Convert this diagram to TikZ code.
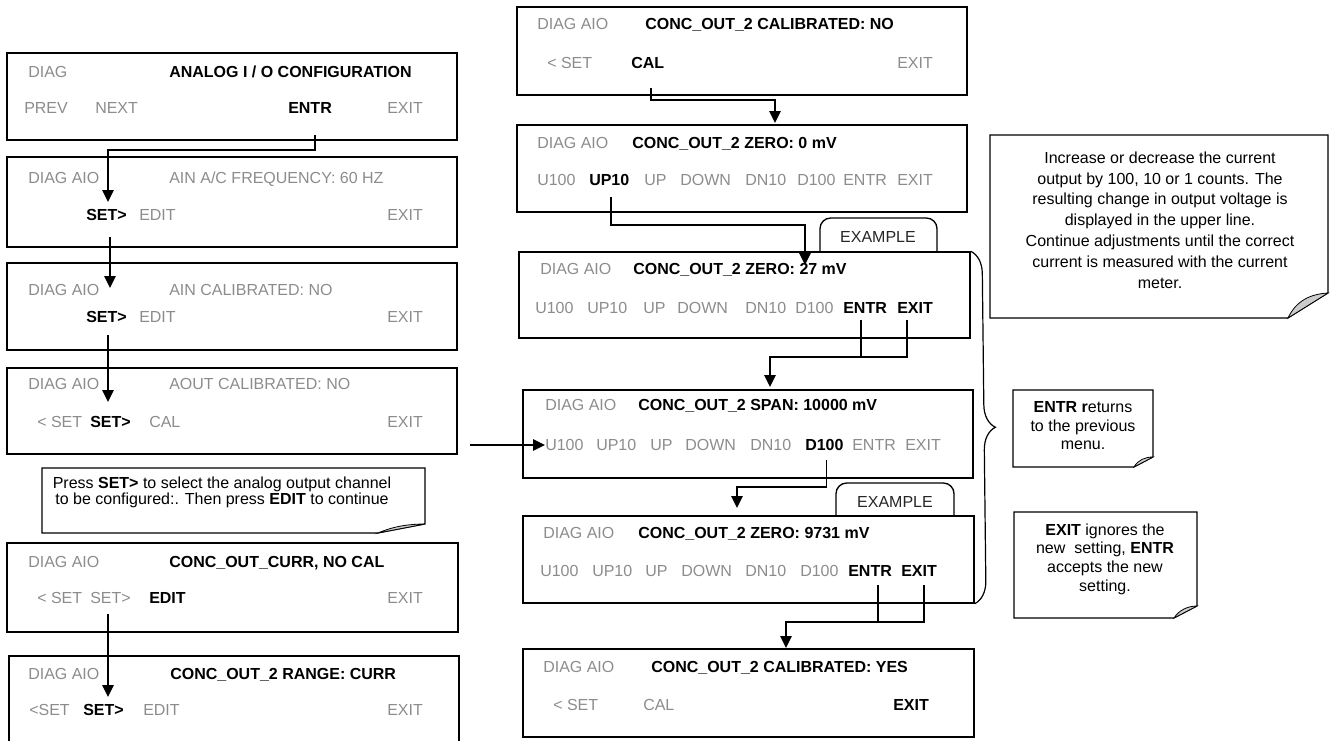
\documentclass[tikz,border=0pt]{standalone}
\usepackage{fontspec}
\setmainfont{Liberation Sans}
\usetikzlibrary{arrows.meta,positioning,fit,calc,decorations.pathreplacing}
\definecolor{lcdgray}{gray}{0.55}

\begin{document}
\begin{tikzpicture}[
    x=0.75pt, y=-0.75pt,
    screen/.style={draw, line width=1.1pt, inner sep=0pt},
    key/.style={anchor=west, inner xsep=0pt, inner ysep=3pt, text height=8.6pt, text depth=0pt,
                text=lcdgray, font=\fontsize{12}{14}\selectfont},
    hot/.style={key, text=black, font=\fontsize{12}{14}\selectfont\bfseries},
    flow/.style={line width=1.3pt, -{Triangle[length=9pt, width=8.5pt]}},
    wire/.style={line width=1.3pt},
    memo/.style={draw, line width=0.8pt, fill=white},
    curl/.style={draw, line width=0.6pt, fill=gray!40},
    memotext/.style={align=center, inner sep=0pt, font=\fontsize{12}{15.6}\selectfont},
    tab/.style={draw, line width=1pt, rounded corners=8pt},
    curly/.style={decorate, decoration={brace, amplitude=17pt}, line width=0.9pt}
]
    \useasboundingbox (0,0) rectangle (1331,740);

    % Left column: analog I/O configuration
    \node[screen, fit={(7,53) (457,140)}] (aio1) {};
    \node[key] (aio1diag) at (28,72) {DIAG};
    \node[hot] (aio1title) at (169,72) {ANALOG I / O CONFIGURATION};
    \node[key] (aio1prev) at (24,108) {PREV};
    \node[key] (aio1next) at (95,108) {NEXT};
    \node[hot] (aio1entr) at (288,108) {ENTR};
    \node[key] (aio1exit) at (387,108) {EXIT};

    \node[screen, fit={(7,157) (457,247)}] (aio2) {};
    \node[key] (aio2diag) at (28,178) {DIAG AIO};
    \node[key] (aio2title) at (169,178) {AIN A/C FREQUENCY: 60 HZ};
    \node[hot] (aio2set) at (86,215) {SET>};
    \node[key] (aio2edit) at (139,215) {EDIT};
    \node[key] (aio2exit) at (387,215) {EXIT};

    \node[screen, fit={(7,263) (457,350)}] (aio3) {};
    \node[key] (aio3diag) at (28,290) {DIAG AIO};
    \node[key] (aio3title) at (169,290) {AIN CALIBRATED: NO};
    \node[hot] (aio3set) at (86,317) {SET>};
    \node[key] (aio3edit) at (139,317) {EDIT};
    \node[key] (aio3exit) at (387,317) {EXIT};

    \node[screen, fit={(7,368) (457,454)}] (aio4) {};
    \node[key] (aio4diag) at (28,384) {DIAG AIO};
    \node[key] (aio4title) at (169,384) {AOUT CALIBRATED: NO};
    \node[key] (aio4prev) at (37,422) {< SET};
    \node[hot] (aio4set) at (90,422) {SET>};
    \node[key] (aio4cal) at (149,422) {CAL};
    \node[key] (aio4exit) at (387,422) {EXIT};

    % Hint below the channel menu
    \draw[memo] (42,468) -- (425,468) -- (425,524) -- (378,533) -- (42,533) -- cycle;
    \draw[curl] (378,533) .. controls (394,526) and (410,524) .. (425,524) -- cycle;
    \node[memotext, font=\fontsize{12}{12}\selectfont] (hintset) at (222,492)
        {Press \textbf{SET>} to select the analog output channel\\
         to be configured:. Then press \textbf{EDIT} to continue};

    \node[screen, fit={(7,543) (458,632)}] (aio5) {};
    \node[key] (aio5diag) at (28,562) {DIAG AIO};
    \node[hot] (aio5title) at (169,562) {CONC\_OUT\_CURR, NO CAL};
    \node[key] (aio5prev) at (37,598) {< SET};
    \node[key] (aio5set) at (90,598) {SET>};
    \node[hot] (aio5edit) at (149,598) {EDIT};
    \node[key] (aio5exit) at (387,598) {EXIT};

    \node[screen, fit={(9,656) (459,748)}] (aio6) {};
    \node[key] (aio6diag) at (28,674) {DIAG AIO};
    \node[hot] (aio6title) at (170,674) {CONC\_OUT\_2 RANGE: CURR};
    \node[key] (aio6prev) at (29,710) {<SET};
    \node[hot] (aio6set) at (83,710) {SET>};
    \node[key] (aio6edit) at (143,710) {EDIT};
    \node[key] (aio6exit) at (387,710) {EXIT};

    % Left column arrows
    \coordinate (tipa1) at (108,202);
    \draw[flow] ($(aio1entr.south)+(5,17)$) -- ++(0,15) -| (tipa1);
    \coordinate (tipa2) at (110,288);
    \draw[flow] ($(tipa2 |- aio2set.south)+(0,12)$) -- (tipa2);
    \coordinate (tipa3) at (108,402);
    \draw[flow] ($(tipa3 |- aio3set.south)+(0,8)$) -- (tipa3);
    \coordinate (tipa4) at (108,697);
    \draw[flow] ($(tipa4 |- aio5set.south)+(0,6)$) -- (tipa4);

    % Right column: calibration screens
    \node[screen, fit={(517,7) (967,95)}] (cal1) {};
    \node[key] (cal1diag) at (537,24) {DIAG AIO};
    \node[hot] (cal1title) at (645,24) {CONC\_OUT\_2 CALIBRATED: NO};
    \node[key] (cal1prev) at (547,63) {< SET};
    \node[hot] (cal1cal) at (631,63) {CAL};
    \node[key] (cal1exit) at (897,63) {EXIT};

    \node[screen, fit={(517,125) (967,212)}] (cal2) {};
    \node[key] (cal2diag) at (537,143) {DIAG AIO};
    \node[hot] (cal2title) at (632,143) {CONC\_OUT\_2 ZERO: 0 mV};
    \foreach \w/\xx/\st/\nm in {U100/537/key/cal2u100, UP10/589/hot/cal2up10, UP/644/key/cal2up,
        DOWN/680/key/cal2down, DN10/745/key/cal2dn10, D100/797/key/cal2d100,
        ENTR/843/key/cal2entr, EXIT/897/key/cal2exit}
        \node[\st] (\nm) at (\xx,180) {\w};

    % Example tab above the first adjustment
    \draw[tab] (820,252) |- (878,218) -| (937,252);
    \node[key, anchor=center, text=black!85] (tab1) at (878,237) {EXAMPLE};

    \node[screen, fit={(519,252) (970,338)}] (cal3) {};
    \node[key] (cal3diag) at (540,269) {DIAG AIO};
    \node[hot] (cal3title) at (633,269) {CONC\_OUT\_2 ZERO: 27 mV};
    \foreach \w/\xx/\st/\nm in {U100/535/key/cal3u100, UP10/587/key/cal3up10, UP/643/key/cal3up,
        DOWN/677/key/cal3down, DN10/745/key/cal3dn10, D100/795/key/cal3d100,
        ENTR/843/hot/cal3entr, EXIT/897/hot/cal3exit}
        \node[\st] (\nm) at (\xx,308) {\w};

    \node[screen, fit={(523,390) (973,478)}] (cal4) {};
    \node[key] (cal4diag) at (545,405) {DIAG AIO};
    \node[hot] (cal4title) at (638,405) {CONC\_OUT\_2 SPAN: 10000 mV};
    \foreach \w/\xx/\st/\nm in {U100/545/key/cal4u100, UP10/596/key/cal4up10, UP/650/key/cal4up,
        DOWN/685/key/cal4down, DN10/750/key/cal4dn10, D100/805/hot/cal4d100,
        ENTR/852/key/cal4entr, EXIT/905/key/cal4exit}
        \node[\st] (\nm) at (\xx,445) {\w};

    % Example tab above the second adjustment
    \draw[tab] (836,516) |- (895,483) -| (954,516);
    \node[key, anchor=center, text=black!85] (tab2) at (895,502) {EXAMPLE};

    \node[screen, fit={(523,516) (974,603)}] (cal5) {};
    \node[key] (cal5diag) at (543,533) {DIAG AIO};
    \node[hot] (cal5title) at (638,533) {CONC\_OUT\_2 ZERO: 9731 mV};
    \foreach \w/\xx/\st/\nm in {U100/540/key/cal5u100, UP10/592/key/cal5up10, UP/645/key/cal5up,
        DOWN/681/key/cal5down, DN10/745/key/cal5dn10, D100/800/key/cal5d100,
        ENTR/848/hot/cal5entr, EXIT/901/hot/cal5exit}
        \node[\st] (\nm) at (\xx,571) {\w};

    \node[screen, fit={(523,649) (974,737)}] (cal6) {};
    \node[key] (cal6diag) at (543,667) {DIAG AIO};
    \node[hot] (cal6title) at (651,667) {CONC\_OUT\_2 CALIBRATED: YES};
    \node[key] (cal6prev) at (553,705) {< SET};
    \node[key] (cal6cal) at (643,705) {CAL};
    \node[hot] (cal6exit) at (893,705) {EXIT};

    % Right column arrows
    \coordinate (tipr1) at (775,123);
    \draw[flow] ($(cal1cal.south)+(3,15)$) -- ++(0,12) -| (tipr1);
    \coordinate (tipr2) at (805,265);
    \draw[flow] ($(cal2up10.south)+(2,7)$) -- ++(0,28) -| (tipr2);
    \coordinate (tipr3) at (770,387);
    \draw[wire] ($(cal3entr.south)+(-4,2)$) -- ++(0,37);
    \draw[flow] ($(cal3exit.south)+(-8,2)$) -- ++(0,37) -| (tipr3);
    \coordinate (lead) at (470,445);
    \draw[flow] (lead) -- (cal4u100.west);
    \coordinate (tipr5) at (737,508);
    \draw[flow] ($(cal4d100.south)+(2,5)$) -- ++(0,27) -| (tipr5);
    \coordinate (tipr6) at (786,648);
    \draw[wire] ($(cal5entr.south)+(8,4)$) -- ++(0,37);
    \draw[flow] ($(cal5exit.south)+(5,4)$) -- ++(0,37) -| (tipr6);

    % Brace over the adjustment screens
    \draw[curly] (cal3.north east) -- (cal5.south east);

    % Notes
    \draw[memo] (990,135) -- (1328,135) -- (1328,293) -- (1288,318) -- (990,318) -- cycle;
    \draw[curl] (1288,318) .. controls (1296,301) and (1310,294) .. (1328,293) -- cycle;
    \node[memotext] (hintadj) at (1160,220)
        {Increase or decrease the current\\
         output by 100, 10 or 1 counts. The\\
         resulting change in output voltage is\\
         displayed in the upper line.\\
         Continue adjustments until the correct\\
         current is measured with the current\\
         meter.};

    \draw[memo] (1013,390) -- (1153,390) -- (1153,457) -- (1134,467) -- (1013,467) -- cycle;
    \draw[curl] (1134,467) .. controls (1138,460) and (1145,457) .. (1153,457) -- cycle;
    \node[memotext, font=\fontsize{12}{13.9}\selectfont] (hintentr) at (1083,426)
        {\textbf{ENTR r}eturns\\ to the previous\\ menu.};

    \draw[memo] (1014,512) -- (1197,512) -- (1197,606) -- (1174,618) -- (1014,618) -- cycle;
    \draw[curl] (1174,618) .. controls (1179,610) and (1188,606) .. (1197,606) -- cycle;
    \node[memotext, font=\fontsize{12}{14}\selectfont] (hintexit) at (1105,559)
        {\textbf{EXIT} ignores the\\ new\ \ setting, \textbf{ENTR}\\ accepts the new\\ setting.};
\end{tikzpicture}
\end{document}
